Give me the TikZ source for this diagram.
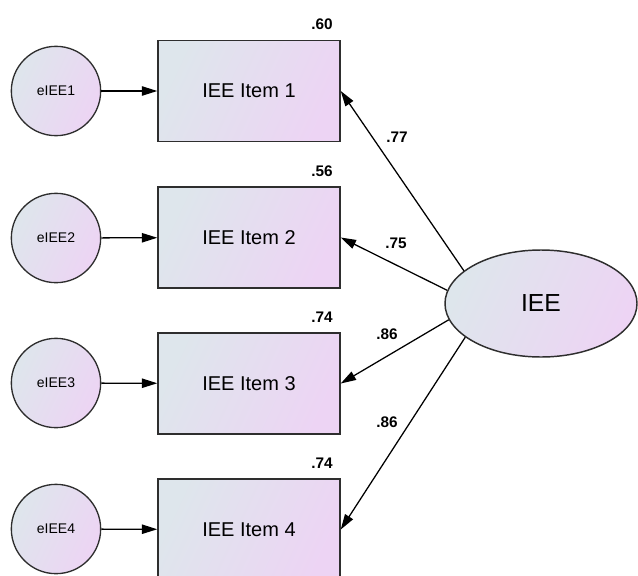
\documentclass[tikz,border=0pt]{standalone}
\usepackage{fontspec}
\setmainfont{Liberation Sans}
\usetikzlibrary{shapes.geometric,arrows.meta}
\definecolor{shadeA}{HTML}{DEE6EC}
\definecolor{shadeB}{HTML}{EDD4F4}
\definecolor{edge}{HTML}{2E2E2E}
\tikzset{
  fillgrad/.style={left color=shadeA, right color=shadeB, shading angle=65},
  itembox/.style={draw=edge, line width=1.1pt, fillgrad, minimum width=136.5pt,
    minimum height=75.75pt, inner sep=0pt, font=\fontsize{15}{18}\selectfont},
  errcirc/.style={circle, draw=edge, line width=1pt, fillgrad, minimum size=67pt,
    inner sep=0pt, font=\fontsize{10.5}{12}\selectfont},
  latent/.style={ellipse, draw=edge, line width=1.1pt, fillgrad, minimum width=144pt,
    minimum height=80.25pt, inner sep=0pt, font=\fontsize{18.5}{22}\selectfont},
  link/.style={-{Triangle[length=11.5pt,width=7pt]}, line width=0.95pt, draw=black},
  coef/.style={font=\bfseries\fontsize{11.5}{14}\selectfont, inner sep=0pt}
}
\begin{document}
\begin{tikzpicture}[x=0.75pt,y=-0.75pt]
  \useasboundingbox (0,0) rectangle (638,575);

  % observed items
  \node[itembox] (i1) at (249,91)    {IEE Item 1};
  \node[itembox] (i2) at (249,237.5) {IEE Item 2};
  \node[itembox] (i3) at (249,383.5) {IEE Item 3};
  \node[itembox] (i4) at (249,529.5) {IEE Item 4};

  % error terms
  \node[errcirc] (e1) at (56,91)  {eIEE1};
  \node[errcirc] (e2) at (56,238) {eIEE2};
  \node[errcirc] (e3) at (56,383) {eIEE3};
  \node[errcirc] (e4) at (56,529) {eIEE4};

  % latent factor
  \node[latent] (f) at (541,303.5) {IEE};

  % squared multiple correlations
  \node[coef] (r1) at (322,24)  {.60};
  \node[coef] (r2) at (322,171) {.56};
  \node[coef] (r3) at (322,317) {.74};
  \node[coef] (r4) at (322,463) {.74};

  % error paths
  \foreach \k in {1,...,4} \draw[link] (e\k) -- (i\k);

  % factor loadings
  \draw[link] (f.157.8) -- (i1.east);
  \draw[link] (f.172.4) -- (i2.east);
  \draw[link] (f.190.7) -- (i3.east);
  \draw[link] (f.204.4) -- (i4.east);

  \node[coef] (l1) at (397,137) {.77};
  \node[coef] (l2) at (396,243) {.75};
  \node[coef] (l3) at (387,334) {.86};
  \node[coef] (l4) at (387,422) {.86};
\end{tikzpicture}
\end{document}
